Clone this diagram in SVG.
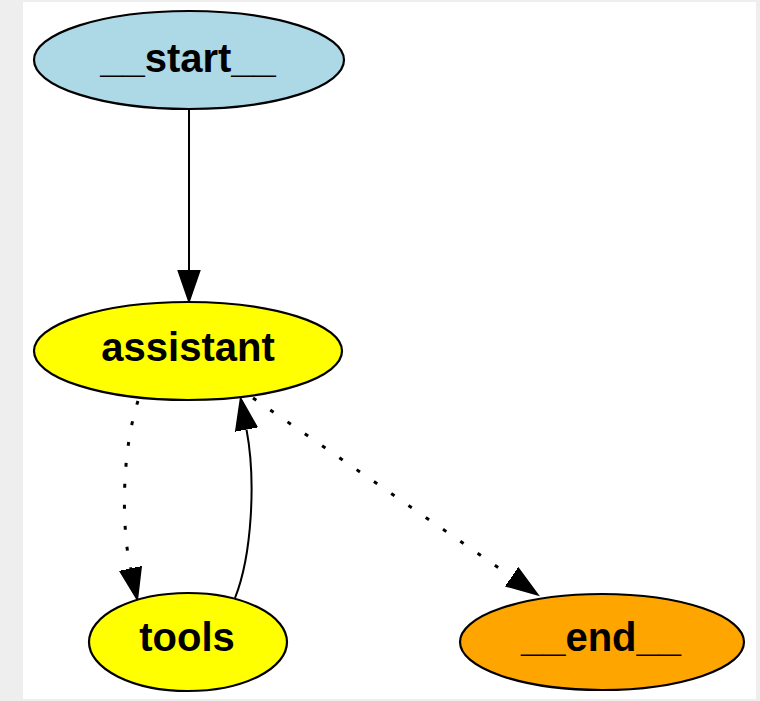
<svg xmlns="http://www.w3.org/2000/svg" width="760" height="701" viewBox="0 0 760 701">
<defs>
<style>
.node ellipse{stroke:#000;stroke-width:2.2}
.node text{font-family:"Liberation Sans",Arial,Helvetica,sans-serif;font-weight:bold;font-size:40px;fill:#000;text-anchor:middle}
.edge{fill:none;stroke:#000;stroke-width:2;marker-end:url(#arrow)}
.dotted{stroke-width:3;stroke-dasharray:4 17}
</style>
<marker id="arrow" markerUnits="userSpaceOnUse" markerWidth="40" markerHeight="30" viewBox="0 -15 40 30" refX="0" refY="0" orient="auto">
<path d="M0,-11 L32,0 L0,11 Z" fill="#000" stroke="#000" stroke-width="1.5" stroke-dasharray="none"/>
</marker>
</defs>
<rect x="0" y="0" width="760" height="701" fill="#eeeeee"/>
<rect x="23" y="2" width="733" height="697" fill="#ffffff"/>
<g id="edges">
<path class="edge" d="M189,110 L189,270"/>
<path class="edge dotted" d="M138,401 C122,450 121,525 130.5,568.5"/>
<path class="edge" d="M235,598 C252,555 256,480 246.5,429.5"/>
<path class="edge dotted" d="M253,398 L511.7,576.8"/>
</g>
<g id="start" class="node">
<ellipse cx="189" cy="60" rx="155" ry="49" fill="#add8e6"/>
<text x="188" y="72">__start__</text>
</g>
<g id="assistant" class="node">
<ellipse cx="188" cy="351" rx="154" ry="49" fill="#ffff00"/>
<text x="188" y="361">assistant</text>
</g>
<g id="tools" class="node">
<ellipse cx="188" cy="642" rx="99" ry="49" fill="#ffff00"/>
<text x="187" y="651">tools</text>
</g>
<g id="end" class="node">
<ellipse cx="602" cy="642" rx="142" ry="48" fill="#ffa500"/>
<text x="601" y="651">__end__</text>
</g>
</svg>
